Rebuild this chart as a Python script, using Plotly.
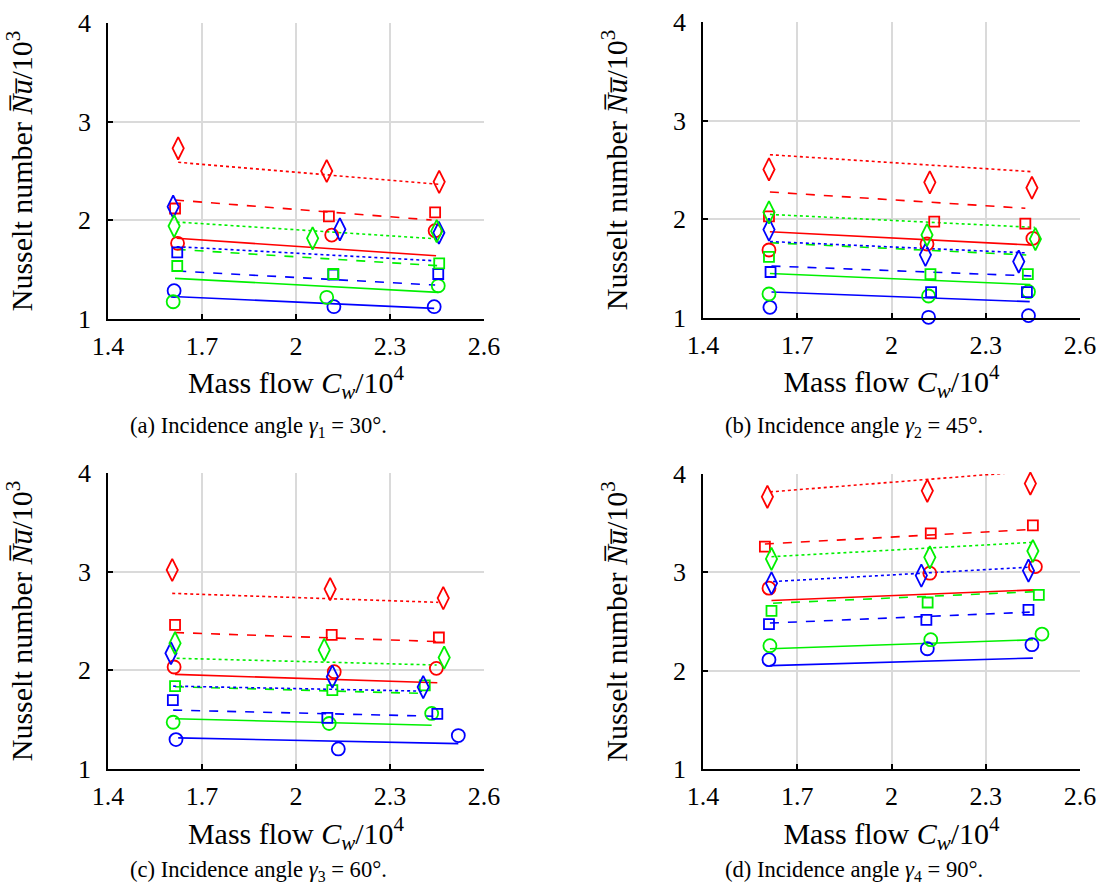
import plotly.graph_objects as go

# ---------------- data ----------------
SERIES_COLORS = ["blue", "green", "red", "blue", "green", "red", "blue", "green", "red"]
SERIES_SYMBOLS = ["circle", "circle", "circle", "square", "square", "square", "diamond", "diamond", "diamond"]

X_TICKS = [1.4, 1.7, 2.0, 2.3, 2.6]
X_TICK_LABELS = ["1.4", "1.7", "2", "2.3", "2.6"]
Y_TICKS = [1, 2, 3, 4]
Y_TICK_LABELS = ["1", "2", "3", "4"]

CAPTIONS = [
    "(a) Incidence angle <i>γ</i><sub>1</sub> = 30°.",
    "(b) Incidence angle <i>γ</i><sub>2</sub> = 45°.",
    "(c) Incidence angle <i>γ</i><sub>3</sub> = 60°.",
    "(d) Incidence angle <i>γ</i><sub>4</sub> = 90°.",
]

# panel (a) gamma = 30 deg : measured points
A_PT_X = [[1.611, 2.121, 2.441], [1.608, 2.098, 2.454], [1.622, 2.114, 2.444],
          [1.621, 2.119, 2.454], [1.621, 2.119, 2.457], [1.614, 2.105, 2.444],
          [1.608, 2.140, 2.456], [1.611, 2.053, 2.449], [1.624, 2.098, 2.457]]
A_PT_Y = [[1.287, 1.125, 1.125], [1.175, 1.220, 1.337], [1.767, 1.851, 1.895],
          [1.676, 1.450, 1.456], [1.537, 1.456, 1.564], [2.120, 2.040, 2.080],
          [2.138, 1.909, 1.874], [1.942, 1.818, 1.890], [2.730, 2.500, 2.390]]
# panel (a) correlation lines
A_LN_X = [[1.624, 2.441], [1.614, 2.454], [1.619, 2.447],
          [1.621, 2.444], [1.619, 2.454], [1.614, 2.433],
          [1.619, 2.444], [1.619, 2.460], [1.624, 2.457]]
A_LN_Y = [[1.226, 1.108], [1.412, 1.270], [1.818, 1.641],
          [1.486, 1.344], [1.706, 1.540], [2.206, 2.003],
          [1.733, 1.590], [1.983, 1.810], [2.588, 2.365]]

# panel (b) gamma = 45 deg
B_PT_X = [[1.613, 2.118, 2.436], [1.610, 2.118, 2.436], [1.610, 2.113, 2.450],
          [1.615, 2.126, 2.431], [1.610, 2.124, 2.434], [1.610, 2.136, 2.426],
          [1.610, 2.108, 2.405], [1.610, 2.113, 2.458], [1.610, 2.122, 2.447]]
B_PT_Y = [[1.108, 1.007, 1.024], [1.243, 1.223, 1.267], [1.689, 1.750, 1.807],
          [1.466, 1.263, 1.263], [1.620, 1.445, 1.445], [2.030, 1.976, 1.956],
          [1.896, 1.640, 1.572], [2.071, 1.841, 1.800], [2.506, 2.375, 2.320]]
B_LN_X = [[1.618, 2.440], [1.613, 2.442], [1.613, 2.450],
          [1.618, 2.445], [1.613, 2.429], [1.613, 2.426],
          [1.613, 2.429], [1.613, 2.456], [1.613, 2.447]]
B_LN_Y = [[1.264, 1.166], [1.451, 1.339], [1.874, 1.739],
          [1.527, 1.426], [1.763, 1.639], [2.277, 2.112],
          [1.775, 1.660], [2.050, 1.918], [2.655, 2.483]]

# panel (c) gamma = 60 deg
C_PT_X = [[1.617, 2.135, 2.518], [1.608, 2.106, 2.433], [1.611, 2.122, 2.448],
          [1.607, 2.100, 2.451], [1.614, 2.116, 2.411], [1.614, 2.114, 2.456],
          [1.601, 2.116, 2.406], [1.614, 2.090, 2.473], [1.605, 2.109, 2.470]]
C_PT_Y = [[1.298, 1.203, 1.339], [1.474, 1.461, 1.563], [2.034, 1.986, 2.020],
          [1.698, 1.519, 1.559], [1.840, 1.800, 1.847], [2.461, 2.359, 2.333],
          [2.173, 1.936, 1.830], [2.275, 2.207, 2.129], [3.017, 2.824, 2.732]]
C_LN_X = [[1.624, 2.518], [1.614, 2.433], [1.614, 2.451],
          [1.608, 2.438], [1.614, 2.401], [1.614, 2.449],
          [1.608, 2.406], [1.619, 2.449], [1.605, 2.454]]
C_LN_Y = [[1.315, 1.257], [1.509, 1.444], [1.959, 1.874],
          [1.597, 1.535], [1.834, 1.766], [2.383, 2.292],
          [1.840, 1.789], [2.122, 2.054], [2.780, 2.689]]

# panel (d) gamma = 90 deg
D_PT_X = [[1.610, 2.114, 2.447], [1.613, 2.125, 2.479], [1.610, 2.122, 2.458],
          [1.610, 2.111, 2.436], [1.618, 2.115, 2.469], [1.597, 2.125, 2.450],
          [1.618, 2.095, 2.436], [1.618, 2.122, 2.450], [1.605, 2.114, 2.442]]
D_PT_Y = [[2.112, 2.223, 2.264], [2.254, 2.315, 2.372], [2.839, 2.991, 3.058],
          [2.473, 2.517, 2.619], [2.608, 2.693, 2.771], [3.261, 3.397, 3.478],
          [2.889, 2.967, 3.017], [3.136, 3.153, 3.217], [3.768, 3.829, 3.903]]
D_LN_X = [[1.613, 2.450], [1.613, 2.450], [1.618, 2.458],
          [1.613, 2.440], [1.623, 2.458], [1.597, 2.450],
          [1.623, 2.436], [1.618, 2.450], [1.613, 2.450]]
D_LN_Y = [[2.051, 2.128], [2.223, 2.314], [2.713, 2.822],
          [2.484, 2.595], [2.686, 2.804], [3.288, 3.437],
          [2.906, 3.052], [3.159, 3.305], [3.818, 4.030]]

PANELS = [
    (A_PT_X, A_PT_Y, A_LN_X, A_LN_Y),
    (B_PT_X, B_PT_Y, B_LN_X, B_LN_Y),
    (C_PT_X, C_PT_Y, C_LN_X, C_LN_Y),
    (D_PT_X, D_PT_Y, D_LN_X, D_LN_Y),
]

# ---------------- styling ----------------
W, H = 1101, 893
FONT = "Liberation Serif, Times New Roman, DejaVu Serif, serif"
TICK_SIZE = 26
TITLE_SIZE = 30
CAPTION_SIZE = 22.6
COLOR_MAP = {"red": "#ff0000", "green": "#00f000", "blue": "#0000ff"}
DASH_MAP = {"circle": "solid", "square": "dash", "diamond": "dot"}
SYMBOL_MAP = {"circle": "circle-open", "square": "square-open", "diamond": "diamond-tall-open"}
SIZE_MAP = {"circle": 13, "square": 10, "diamond": 16}

# plot-area boxes in pixels (left, right, top, bottom)
BOXES = [(108, 484, 23, 319), (703, 1080, 22, 318),
         (108, 484, 473, 769), (703, 1080, 474, 769)]
XTITLE_STANDOFF = [5, 5, 13, 13]
CAPTION_POS = [(128, 427), (723, 427), (128, 871), (723, 871)]

fig = go.Figure()
layout = {}
for i, (ptx, pty, lnx, lny) in enumerate(PANELS):
    n = "" if i == 0 else str(i + 1)
    xa, ya = "x" + n, "y" + n
    for k in range(9):
        c = COLOR_MAP[SERIES_COLORS[k]]
        s = SERIES_SYMBOLS[k]
        fig.add_trace(go.Scatter(x=lnx[k], y=lny[k], mode="lines", xaxis=xa, yaxis=ya,
                                 line=dict(color=c, width=1.6, dash=DASH_MAP[s]),
                                 showlegend=False, hoverinfo="skip"))
    for k in range(9):
        c = COLOR_MAP[SERIES_COLORS[k]]
        s = SERIES_SYMBOLS[k]
        fig.add_trace(go.Scatter(x=ptx[k], y=pty[k], mode="markers", xaxis=xa, yaxis=ya,
                                 marker=dict(symbol=SYMBOL_MAP[s], size=SIZE_MAP[s], color=c,
                                             line=dict(color=c, width=1.8)),
                                 cliponaxis=False, showlegend=False))
    l, r, t, b = BOXES[i]
    layout["xaxis" + n] = dict(
        domain=[l / W, r / W], anchor=ya, range=[1.4, 2.6], automargin=False,
        tickvals=X_TICKS, ticktext=X_TICK_LABELS, ticks="inside", ticklen=5,
        tickcolor="black", tickwidth=1.5, showline=True, linecolor="black", linewidth=1.8,
        showgrid=True, gridcolor="#dadada", gridwidth=1.6, zeroline=False,
        ticklabelstandoff=3,
        tickfont=dict(family=FONT, size=TICK_SIZE, color="black"),
        title=dict(text="Mass flow <i>C<sub>w</sub></i>/10<sup>4</sup>",
                   font=dict(family=FONT, size=TITLE_SIZE, color="black"),
                   standoff=XTITLE_STANDOFF[i]),
    )
    layout["yaxis" + n] = dict(
        domain=[1 - b / H, 1 - t / H], anchor=xa, range=[1, 4], automargin=False,
        tickvals=Y_TICKS, ticktext=Y_TICK_LABELS, ticks="inside", ticklen=5,
        tickcolor="black", tickwidth=1.5, showline=True, linecolor="black", linewidth=1.8,
        showgrid=True, gridcolor="#dadada", gridwidth=1.6, zeroline=False,
        ticklabelstandoff=10,
        tickfont=dict(family=FONT, size=TICK_SIZE, color="black"),
        title=dict(text="Nusselt number <i>N\u0305u\u0305</i>/10<sup>3</sup>",
                   font=dict(family=FONT, size=TITLE_SIZE, color="black"), standoff=36),
    )

annotations = []
for i, cap in enumerate(CAPTIONS):
    cx, cy = CAPTION_POS[i]
    annotations.append(dict(text=cap, x=cx / W, y=1 - cy / H, xref="paper", yref="paper",
                            xanchor="left", yanchor="middle", showarrow=False,
                            font=dict(family=FONT, size=CAPTION_SIZE, color="black")))

fig.update_layout(
    width=W, height=H, margin=dict(l=0, r=0, t=0, b=0),
    paper_bgcolor="white", plot_bgcolor="white",
    annotations=annotations, **layout,
)
fig.write_html("out.html")
